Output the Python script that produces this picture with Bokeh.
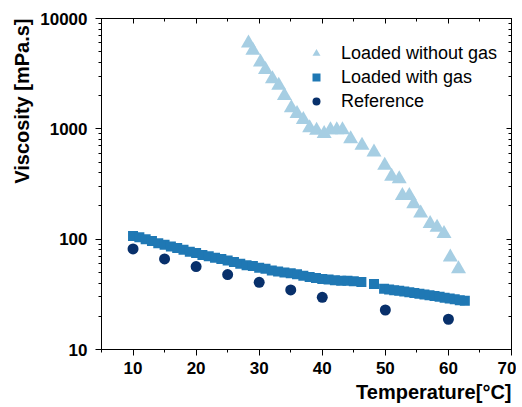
from bokeh.plotting import figure
from bokeh.models import (LinearAxis, LogAxis, FixedTicker, CustomJSTickFormatter,
                          NumeralTickFormatter, Title, Legend, LegendItem, Range1d)
from bokeh.embed import file_html
from bokeh.resources import INLINE

# ---- data ----
temp_nogas = [28.3, 29.0, 30.2, 31.0, 32.1, 33.1, 34.0, 35.1, 36.0, 37.0, 38.0, 39.1,
              40.3, 41.3, 42.3, 43.2, 44.5, 46.3, 48.2, 49.9, 51.0, 52.2, 52.7, 53.8,
              54.5, 55.6, 57.1, 58.2, 59.3, 60.3, 61.6]
visc_nogas = [5970, 5130, 4020, 3430, 2840, 2470, 2000, 1550, 1370, 1210, 1020, 966,
              902, 980, 980, 980, 811, 706, 614, 465, 370, 352, 248, 248,
              209, 172, 138, 128, 112, 68.6, 53.8]

temp_gas = [10, 11, 12, 13, 14, 15, 16, 17, 18, 19, 20, 21, 22, 23, 24, 25, 26, 27, 28,
            29, 30, 31, 32, 33, 34, 35, 36, 37, 38, 39, 40, 41, 42, 43, 44, 45, 46.2,
            48.2, 49.8, 50.6, 51.4, 52.2, 53.0, 53.8, 54.6, 55.4, 56.2, 57.0, 57.8,
            58.6, 59.4, 60.2, 61.0, 61.8, 62.6]
visc_gas = [107, 104, 100, 96, 92, 89, 86, 83, 80, 77, 75, 72, 70, 68, 66, 64, 62, 60, 58,
            57, 55, 54, 52, 51, 50, 49, 48, 46.5, 45.5, 44.5, 43.5, 43, 42.5, 42, 42, 41.5, 41,
            39.3, 35.5, 35, 34.5, 34, 33.5, 33, 32.5, 32, 31.5, 31, 30.5,
            30, 29.5, 29, 28.5, 28, 27.7]

temp_ref = [10, 15, 20, 25, 30, 35, 40, 50, 60]
visc_ref = [81.6, 66.2, 56.4, 47.8, 40.6, 34.7, 29.7, 22.8, 18.8]

x_major = [10, 20, 30, 40, 50, 60, 70]
x_minor = [5, 15, 25, 35, 45, 55, 65]
y_major = [10, 100, 1000, 10000]
y_minor = [m * 10 ** e for e in range(1, 4) for m in range(2, 10)]

FONT = "Liberation Sans"
C_NOGAS = "#a6cee3"
C_GAS = "#1f78b4"
C_REF = "#08306b"

p = figure(width=516, height=407, y_axis_type="log",
           x_range=Range1d(5, 70), y_range=Range1d(10, 10000),
           output_backend="svg", toolbar_location=None,
           min_border_left=101, min_border_right=5, min_border_top=18, min_border_bottom=58)
p.xgrid.visible = False
p.ygrid.visible = False
p.outline_line_color = "black"
p.outline_line_width = 1

r1 = p.scatter(temp_nogas, visc_nogas, marker="triangle", size=15, color=C_NOGAS, line_color=None)
r2 = p.scatter(temp_gas, visc_gas, marker="square", size=10, color=C_GAS, line_color=None)
r3 = p.scatter(temp_ref, visc_ref, marker="circle", size=11, color=C_REF, line_color=None)

xa = p.xaxis[0]
xa.ticker = FixedTicker(ticks=x_major, minor_ticks=x_minor)
xa.major_tick_out = 6
xa.major_tick_in = 0
xa.minor_tick_out = 3
xa.minor_tick_in = 0
xa.major_label_text_font = FONT
xa.major_label_text_font_style = "bold"
xa.major_label_text_font_size = "17px"
xa.major_label_text_color = "black"
xa.major_label_standoff = 6

ya = p.yaxis[0]
ya.ticker = FixedTicker(ticks=y_major, minor_ticks=y_minor)
ya.formatter = NumeralTickFormatter(format="0")
ya.major_tick_out = 6
ya.major_tick_in = 0
ya.minor_tick_out = 3
ya.minor_tick_in = 0
ya.major_label_text_font = FONT
ya.major_label_text_font_style = "bold"
ya.major_label_text_font_size = "17px"
ya.major_label_text_color = "black"
ya.major_label_standoff = 8

blank = CustomJSTickFormatter(code="return '';")
top = LinearAxis(ticker=FixedTicker(ticks=x_major, minor_ticks=x_minor), formatter=blank,
                 major_tick_in=5, major_tick_out=0, minor_tick_in=3, minor_tick_out=0,
                 major_label_standoff=0)
right = LogAxis(ticker=FixedTicker(ticks=y_major, minor_ticks=y_minor), formatter=blank,
                major_tick_in=5, major_tick_out=0, minor_tick_in=3, minor_tick_out=0,
                major_label_standoff=0)
p.add_layout(top, "above")
p.add_layout(right, "right")

p.add_layout(Title(text="Temperature[°C]", align="right", text_font=FONT, text_color="black",
                   text_font_style="bold", text_font_size="20px", standoff=4,
                   vertical_align="bottom"), "below")
p.add_layout(Title(text="Viscosity [mPa.s]", align="right", text_font=FONT, text_color="black",
                   text_font_style="bold", text_font_size="20px"), "left")

legend = Legend(items=[LegendItem(label="Loaded without gas", renderers=[r1]),
                       LegendItem(label="Loaded with gas", renderers=[r2]),
                       LegendItem(label="Reference", renderers=[r3])],
                location=(205, 236), border_line_color=None, background_fill_alpha=0,
                label_text_font=FONT, label_text_font_size="18px", label_text_color="black",
                label_standoff=15, glyph_width=20, glyph_height=24, label_height=24,
                spacing=0, padding=0, margin=0)
p.add_layout(legend, "center")

open("out.html", "w").write(file_html(p, INLINE))
